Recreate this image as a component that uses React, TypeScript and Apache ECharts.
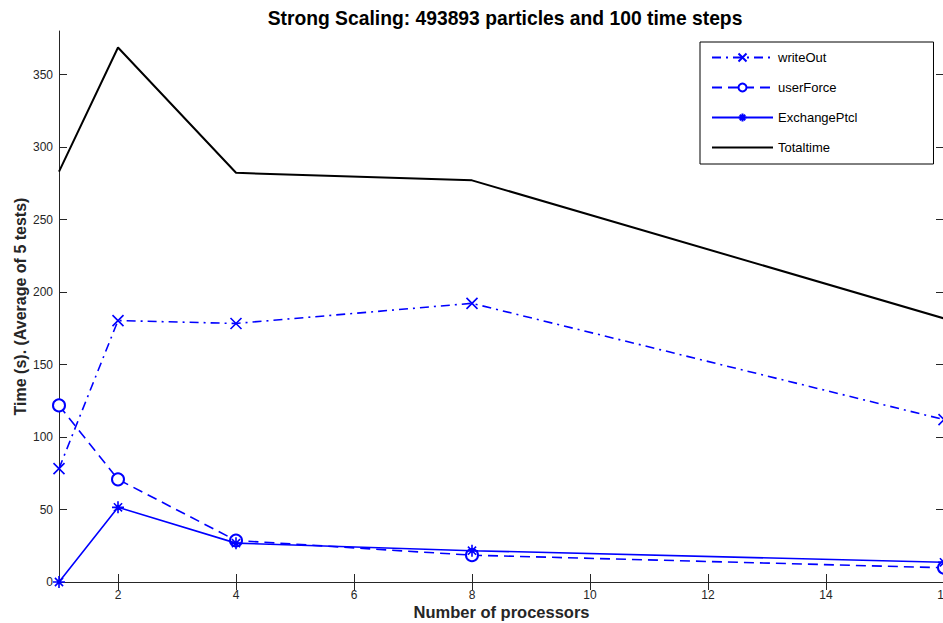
import React, { useEffect, useRef } from "react";
import * as echarts from "echarts";

const processors = [1, 2, 4, 8, 16];
const writeOut = [78.2, 180.3, 178.3, 192.2, 112.0];
const userForce = [121.8, 70.8, 28.6, 18.5, 9.8];
const exchangePtcl = [0, 51.5, 26.8, 21.6, 13.6];
const totalTime = [283.0, 368.6, 282.2, 277.0, 181.8];
const seriesNames = ["writeOut", "userForce", "ExchangePtcl", "Totaltime"];
const xTicks = [2, 4, 6, 8, 10, 12, 14, 16];
const yTicks = [0, 50, 100, 150, 200, 250, 300, 350];

const titleText = "Strong Scaling: 493893 particles and 100 time steps";
const xName = "Number of processors";
const yName = "Time (s). (Average of 5 tests)";

const FONT = "Liberation Sans, Arial, Helvetica, sans-serif";
const BLUE = "#0000ff";
const CROSS = "path://M0,0L10,10M10,0L0,10";
const STAR = "path://M5,0L5,10M0,5L10,5M1.6,1.6L8.4,8.4M8.4,1.6L1.6,8.4";

function pairs(vals: number[]) {
  return processors.map((p, i) => [p, vals[i]]);
}

export default function App() {
  const ref = useRef<HTMLDivElement>(null);
  useEffect(() => {
    if (!ref.current) return;
    document.body.style.margin = "0";
    document.body.style.overflow = "hidden";
    const chart = echarts.init(ref.current, null, { renderer: "svg", width: 943, height: 623 });
    const axisColor = "#262626";
    const xCommon = {
      type: "value",
      min: 1,
      max: 16,
      axisLine: { show: true, lineStyle: { color: axisColor, width: 1 } },
      axisTick: {
        show: true,
        inside: true,
        length: 8,
        customValues: xTicks,
        lineStyle: { color: axisColor },
      },
      splitLine: { show: false },
    };
    const yCommon = {
      type: "value",
      min: 0,
      max: 380,
      axisLine: { show: true, lineStyle: { color: axisColor, width: 1 } },
      axisTick: {
        show: true,
        inside: true,
        length: 8,
        customValues: yTicks,
        lineStyle: { color: axisColor },
      },
      splitLine: { show: false },
    };
    chart.setOption({
      animation: false,
      backgroundColor: "#ffffff",
      title: {
        text: titleText,
        left: 500,
        textAlign: "center",
        top: 4,
        textStyle: { fontFamily: FONT, fontSize: 19.3, fontWeight: "bold", color: "#000" },
      },
      grid: {
        left: 59,
        width: 885,
        top: 31,
        height: 551,
        containLabel: false,
        outerBoundsMode: "none",
      },
      legend: {
        orient: "vertical",
        left: 700,
        top: 42,
        padding: [9, 76, 10, 11],
        itemWidth: 61,
        itemHeight: 10,
        itemGap: 17,
        backgroundColor: "#ffffff",
        borderColor: "#000",
        borderWidth: 1,
        borderRadius: 0,
        textStyle: { fontFamily: FONT, fontSize: 13, color: "#000" },
        data: [
          seriesNames[0],
          seriesNames[1],
          seriesNames[2],
          {
            name: seriesNames[3],
            itemStyle: { color: "transparent", borderColor: "transparent", opacity: 0 },
          },
        ],
      },
      xAxis: [
        {
          ...xCommon,
          position: "bottom",
          name: xName,
          nameLocation: "middle",
          nameGap: 21,
          nameMoveOverlap: false,
          nameTextStyle: { fontFamily: FONT, fontSize: 16.5, fontWeight: "bold", color: "#262626" },
          axisLabel: {
            show: true,
            margin: 7,
            fontFamily: FONT,
            fontSize: 12,
            color: "#262626",
            customValues: xTicks,
          },
        },
        { ...xCommon, position: "top", axisLabel: { show: false } },
      ],
      yAxis: [
        {
          ...yCommon,
          position: "left",
          name: yName,
          nameLocation: "middle",
          nameGap: 31,
          nameMoveOverlap: false,
          nameTextStyle: { fontFamily: FONT, fontSize: 16, fontWeight: "bold", color: "#262626" },
          axisLabel: {
            show: true,
            margin: 6,
            fontFamily: FONT,
            fontSize: 12,
            color: "#262626",
            customValues: yTicks,
          },
        },
        { ...yCommon, position: "right", axisLabel: { show: false } },
      ],
      series: [
        {
          name: seriesNames[0],
          type: "line",
          data: pairs(writeOut),
          symbol: CROSS,
          symbolSize: 11,
          itemStyle: { color: BLUE, borderColor: BLUE, borderWidth: 1.6 },
          lineStyle: { color: BLUE, width: 1.6, type: [9, 5, 2, 5] },
          z: 4,
        },
        {
          name: seriesNames[1],
          type: "line",
          data: pairs(userForce),
          symbol: "emptyCircle",
          symbolSize: 12,
          itemStyle: { color: BLUE, borderColor: BLUE, borderWidth: 1.6 },
          lineStyle: { color: BLUE, width: 1.6, type: [10, 6] },
          z: 3,
        },
        {
          name: seriesNames[2],
          type: "line",
          data: pairs(exchangePtcl),
          symbol: STAR,
          symbolSize: 12,
          itemStyle: { color: BLUE, borderColor: BLUE, borderWidth: 1.6 },
          lineStyle: { color: BLUE, width: 1.6, type: "solid" },
          z: 5,
        },
        {
          name: seriesNames[3],
          type: "line",
          data: pairs(totalTime),
          symbol: "none",
          itemStyle: { color: "#000" },
          lineStyle: { color: "#000", width: 2 },
          z: 2,
        },
      ],
    });
    return () => chart.dispose();
  }, []);
  return <div ref={ref} style={{ width: 943, height: 623, background: "#fff", overflow: "hidden" }} />;
}
